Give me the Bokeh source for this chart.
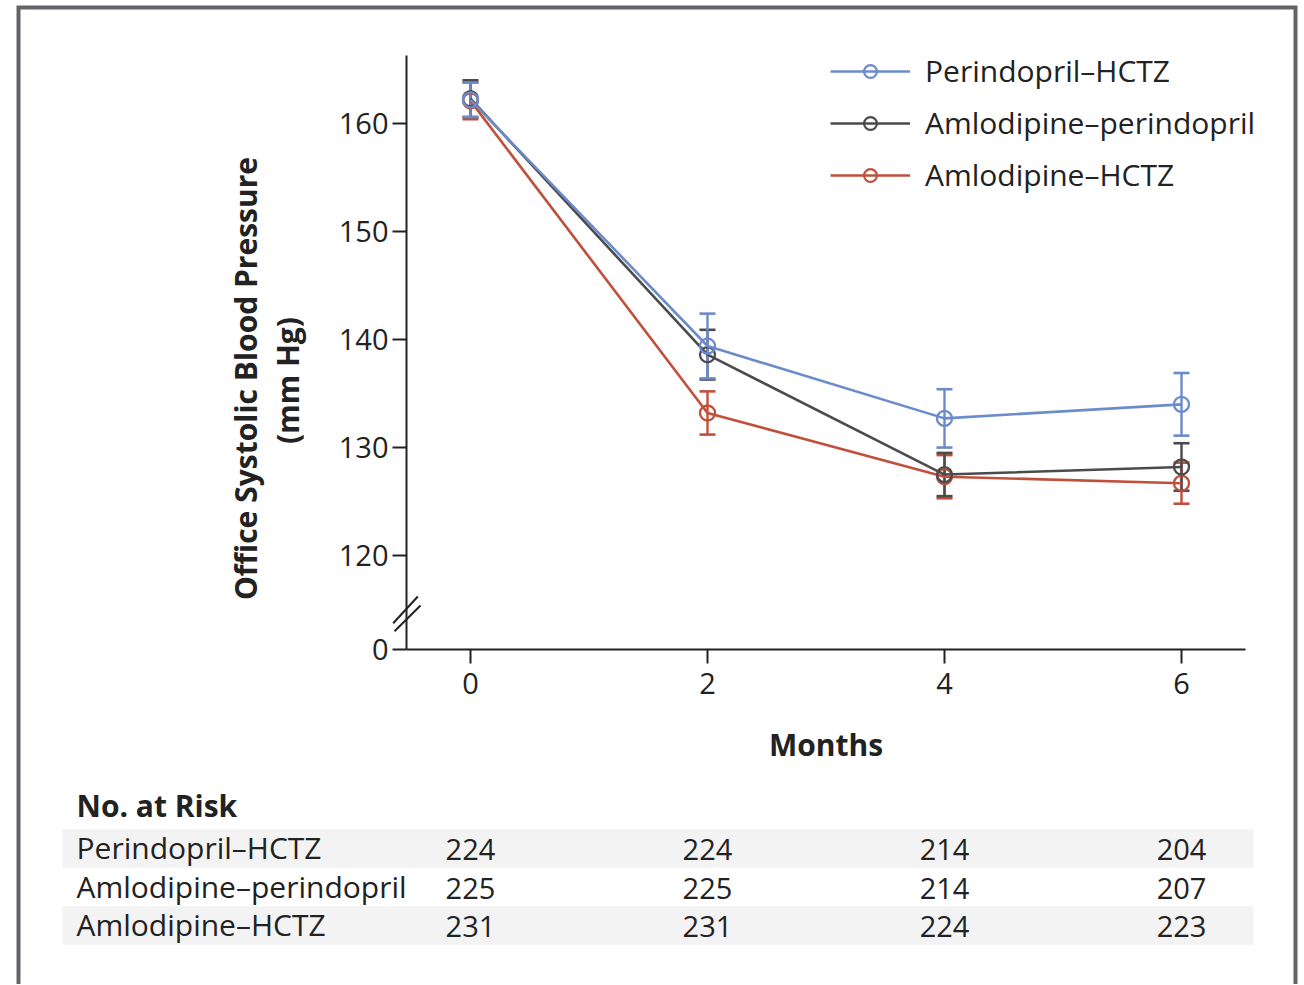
import numpy as np
from bokeh.plotting import figure
from bokeh.models import (Range1d, FixedTicker, ColumnDataSource, Whisker, TeeHead,
                          Legend, LegendItem)
from bokeh.core.properties import value
from bokeh.embed import file_html
from bokeh.resources import INLINE

# ---------------- data ----------------
months = [0, 2, 4, 6]
series_names = ["Perindopril–HCTZ", "Amlodipine–perindopril", "Amlodipine–HCTZ"]
perindopril_hctz = [162.2, 139.4, 132.7, 134.0]
perindopril_hctz_err = [1.6, 3.0, 2.7, 2.9]
amlodipine_perindopril = [162.3, 138.6, 127.5, 128.2]
amlodipine_perindopril_err = [1.7, 2.3, 2.0, 2.2]
amlodipine_hctz = [162.1, 133.2, 127.3, 126.7]
amlodipine_hctz_err = [1.7, 2.0, 2.0, 1.9]
y_ticks = [120, 130, 140, 150, 160]
x_ticks = [0, 2, 4, 6]
at_risk_perindopril_hctz = [224, 224, 214, 204]
at_risk_amlodipine_perindopril = [225, 225, 214, 207]
at_risk_amlodipine_hctz = [231, 231, 224, 223]

# ---------------- layout / style ----------------
FONT = "Open Sans"
TXT = "#222222"
COLORS = ["#6B8BCA", "#4B4B4D", "#C0503B"]
FS = "30px"
FS_TICK = "29px"
W, H = 1300, 984

X_MIN, X_MAX = -0.54, 6.54          # extent of the x axis line
ZERO_POS, Y_MAX = 111.3, 166.3      # extent of the (broken) y axis line
AX_L, AX_R = 406, 1245              # pixel extent of the x axis
AX_T, AX_B = 55, 649                # pixel extent of the y axis
PXX = (AX_R - AX_L) / (X_MAX - X_MIN)
PXY = (AX_B - AX_T) / (Y_MAX - ZERO_POS)


def xd(px):
    return X_MIN + (px - AX_L) / PXX


def yd(py):
    return ZERO_POS + (AX_B - py) / PXY


p = figure(width=W, height=H,
           x_range=Range1d(xd(0), xd(W)), y_range=Range1d(yd(H), yd(0)),
           output_backend="svg", toolbar_location=None,
           min_border=0, min_border_left=0, min_border_right=0,
           min_border_top=0, min_border_bottom=0)
p.outline_line_color = None
p.grid.visible = False
p.background_fill_color = "white"
p.border_fill_color = "white"

# axes (drawn inside the canvas at fixed data locations)
for ax in (p.xaxis, p.yaxis):
    ax.axis_line_width = 2
    ax.axis_line_color = TXT
    ax.major_tick_line_width = 2
    ax.major_tick_line_color = TXT
    ax.major_tick_in = 0
    ax.major_tick_out = 14
    ax.minor_tick_line_color = None
    ax.major_label_text_font = FONT
    ax.major_label_text_font_size = FS_TICK
    ax.major_label_text_color = TXT

p.yaxis.fixed_location = X_MIN
p.yaxis.bounds = (ZERO_POS, Y_MAX)
p.yaxis.ticker = FixedTicker(ticks=[ZERO_POS] + y_ticks)
p.yaxis.major_label_overrides = {ZERO_POS: "0"}
p.yaxis.major_label_standoff = 4

p.xaxis.fixed_location = ZERO_POS
p.xaxis.bounds = (X_MIN, X_MAX)
p.xaxis.ticker = FixedTicker(ticks=x_ticks)
p.xaxis.major_label_standoff = 9

# outer frame
p.line(x=[xd(18), xd(18), xd(1295), xd(1295)], y=[yd(H + 20), yd(7), yd(7), yd(H + 20)],
       line_color="#646468", line_width=4, line_join="miter")

# axis break marks
p.segment(x0=[xd(392.7), xd(394.0)], y0=[yd(622.7), yd(630.7)],
          x1=[xd(417.3), xd(420.0)], y1=[yd(596.0), yd(605.0)],
          line_color=TXT, line_width=2)

# axis titles
p.text(x=[xd(245)], y=[yd(378)], text=["Office Systolic Blood Pressure"], angle=np.pi / 2,
       text_align="center", text_baseline="middle", text_font=value(FONT),
       text_font_size=value(FS), text_font_style="bold", text_color=TXT)
p.text(x=[xd(287)], y=[yd(380)], text=["(mm Hg)"], angle=np.pi / 2,
       text_align="center", text_baseline="middle", text_font=value(FONT),
       text_font_size=value(FS), text_font_style="bold", text_color=TXT)
p.text(x=[(X_MIN + X_MAX) / 2], y=[yd(744)], text=["Months"],
       text_align="center", text_baseline="middle", text_font=value(FONT),
       text_font_size=value(FS), text_font_style="bold", text_color=TXT)

# ---------------- No. at Risk table ----------------
ROW0_PY, ROW_PITCH = 848.0, 38.5
row_py = [ROW0_PY + i * ROW_PITCH for i in range(3)]
band_rows = [0, 2]
p.quad(left=[xd(62)] * len(band_rows), right=[xd(1253)] * len(band_rows),
       top=[yd(row_py[r] - ROW_PITCH / 2) for r in band_rows],
       bottom=[yd(row_py[r] + ROW_PITCH / 2) for r in band_rows],
       fill_color="#F3F3F3", line_color=None)

p.text(x=[xd(76)], y=[yd(805)], text=["No. at Risk"],
       text_align="left", text_baseline="middle", text_font=value(FONT),
       text_font_size=value(FS), text_font_style="bold", text_color=TXT)
p.text(x=[xd(76)] * 3, y=[yd(v - 1) for v in row_py], text=series_names,
       text_align="left", text_baseline="middle", text_font=value(FONT),
       text_font_size=value(FS), text_color=TXT)

counts = [at_risk_perindopril_hctz, at_risk_amlodipine_perindopril, at_risk_amlodipine_hctz]
num_x, num_y, num_t = [], [], []
for i, row in enumerate(counts):
    for m, n in zip(months, row):
        num_x.append(m)
        num_y.append(yd(row_py[i] + 1))
        num_t.append(str(n))
p.text(x=num_x, y=num_y, text=num_t, text_align="center", text_baseline="middle",
       text_font=value(FONT), text_font_size=value(FS_TICK), text_color=TXT)

# ---------------- series ----------------
values_list = [perindopril_hctz, amlodipine_perindopril, amlodipine_hctz]
err_list = [perindopril_hctz_err, amlodipine_perindopril_err, amlodipine_hctz_err]
renderers = {}
for idx in [2, 1, 0]:
    vals = values_list[idx]
    errs = err_list[idx]
    c = COLORS[idx]
    src = ColumnDataSource(dict(
        x=months, y=vals,
        upper=[v + e for v, e in zip(vals, errs)],
        lower=[v - e for v, e in zip(vals, errs)]))
    lr = p.line("x", "y", source=src, line_color=c, line_width=2.6)
    sr = p.scatter("x", "y", source=src, marker="circle", size=15,
                   fill_color=None, line_color=c, line_width=2.3)
    w = Whisker(base="x", upper="upper", lower="lower", source=src,
                line_color=c, line_width=2.4,
                upper_head=TeeHead(size=16, line_color=c, line_width=2.6),
                lower_head=TeeHead(size=16, line_color=c, line_width=2.6))
    p.add_layout(w)
    renderers[idx] = (lr, sr)

legend = Legend(items=[LegendItem(label=series_names[i], renderers=list(renderers[i]))
                       for i in range(3)],
                location=(830, H - 195), orientation="vertical",
                glyph_width=80, glyph_height=32, label_height=40, spacing=11,
                label_standoff=15, padding=0, margin=0,
                label_text_font=FONT, label_text_font_size=FS,
                label_text_color=TXT, label_text_baseline="middle",
                border_line_color=None, background_fill_alpha=0)
p.add_layout(legend, "center")

open("out.html", "w").write(file_html(p, INLINE))
